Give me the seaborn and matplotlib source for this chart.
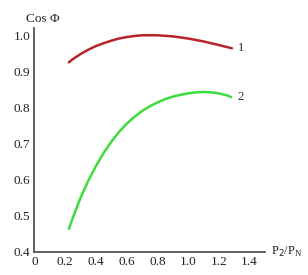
import matplotlib
matplotlib.use("Agg")
import matplotlib.pyplot as plt
import seaborn as sns
import pandas as pd

# Data
p_ratio_1 = [0.224, 0.25, 0.3, 0.35, 0.4, 0.45, 0.5, 0.55, 0.6, 0.65, 0.7, 0.8, 0.9, 1.0, 1.1, 1.2, 1.285]
cos_phi_1 = [0.925, 0.934, 0.948, 0.960, 0.970, 0.978, 0.985, 0.991, 0.995, 0.998, 1.000, 1.000, 0.997, 0.991, 0.983, 0.973, 0.964]
p_ratio_2 = [0.224, 0.25, 0.3, 0.35, 0.4, 0.45, 0.5, 0.55, 0.6, 0.65, 0.7, 0.75, 0.8, 0.85, 0.9, 0.95, 1.0, 1.05, 1.1, 1.15, 1.2, 1.25, 1.28]
cos_phi_2 = [0.464, 0.495, 0.550, 0.597, 0.638, 0.674, 0.705, 0.732, 0.755, 0.774, 0.790, 0.803, 0.814, 0.823, 0.830, 0.835, 0.839, 0.842, 0.843, 0.842, 0.839, 0.834, 0.829]
x_ticks = [0, 0.2, 0.4, 0.6, 0.8, 1.0, 1.2, 1.4]
x_tick_labels = ["0", "0.2", "0.4", "0.6", "0.8", "1.0", "1.2", "1.4"]
y_ticks = [0.4, 0.5, 0.6, 0.7, 0.8, 0.9, 1.0]
y_tick_labels = ["0.4", "0.5", "0.6", "0.7", "0.8", "0.9", "1.0"]
curve_labels = ["1", "2"]

sns.set_style("white")
plt.rcParams['font.family'] = ['Liberation Serif', 'DejaVu Serif']

df1 = pd.DataFrame({"x": p_ratio_1, "y": cos_phi_1})
df2 = pd.DataFrame({"x": p_ratio_2, "y": cos_phi_2})

fig = plt.figure(figsize=(3.08, 2.75), dpi=100)
ax = fig.add_axes([0.112, 0.084, 0.748, 0.814])

sns.lineplot(data=df1, x="x", y="y", ax=ax, color="#b8232a", linewidth=1.8,
             solid_joinstyle="round", solid_capstyle="round")
sns.lineplot(data=df2, x="x", y="y", ax=ax, color="#3ddc3d", linewidth=1.8,
             solid_joinstyle="round", solid_capstyle="round")

ax.set_xlim(0, 1.5)
ax.set_ylim(0.4, 1.02)
ax.set_xticks(x_ticks)
ax.set_xticklabels(x_tick_labels)
ax.set_yticks(y_ticks)
ax.set_yticklabels(y_tick_labels)
ax.set_xlabel("")
ax.set_ylabel("")

for s in ["top", "right"]:
    ax.spines[s].set_visible(False)
for s in ["left", "bottom"]:
    ax.spines[s].set_color("#555555")
    ax.spines[s].set_linewidth(1.3)

ax.tick_params(axis="both", direction="in", length=3, width=1.2, color="#555555",
               labelsize=9.5, labelcolor="#222222", pad=3)

ax.text(p_ratio_1[-1] + 0.04, cos_phi_1[-1], curve_labels[0], fontsize=9, va="center", ha="left")
ax.text(p_ratio_2[-1] + 0.04, cos_phi_2[-1], curve_labels[1], fontsize=9, va="center", ha="left")

fig.text(0.083, 0.932, "Cos \u03a6", fontsize=9.5, ha="left", va="center", color="#222222")
fig.text(0.88, 0.084, "P$_2$/P$_\\mathregular{N}$", fontsize=9, ha="left", va="center", color="#222222")

fig.savefig("out.png", dpi=100)
